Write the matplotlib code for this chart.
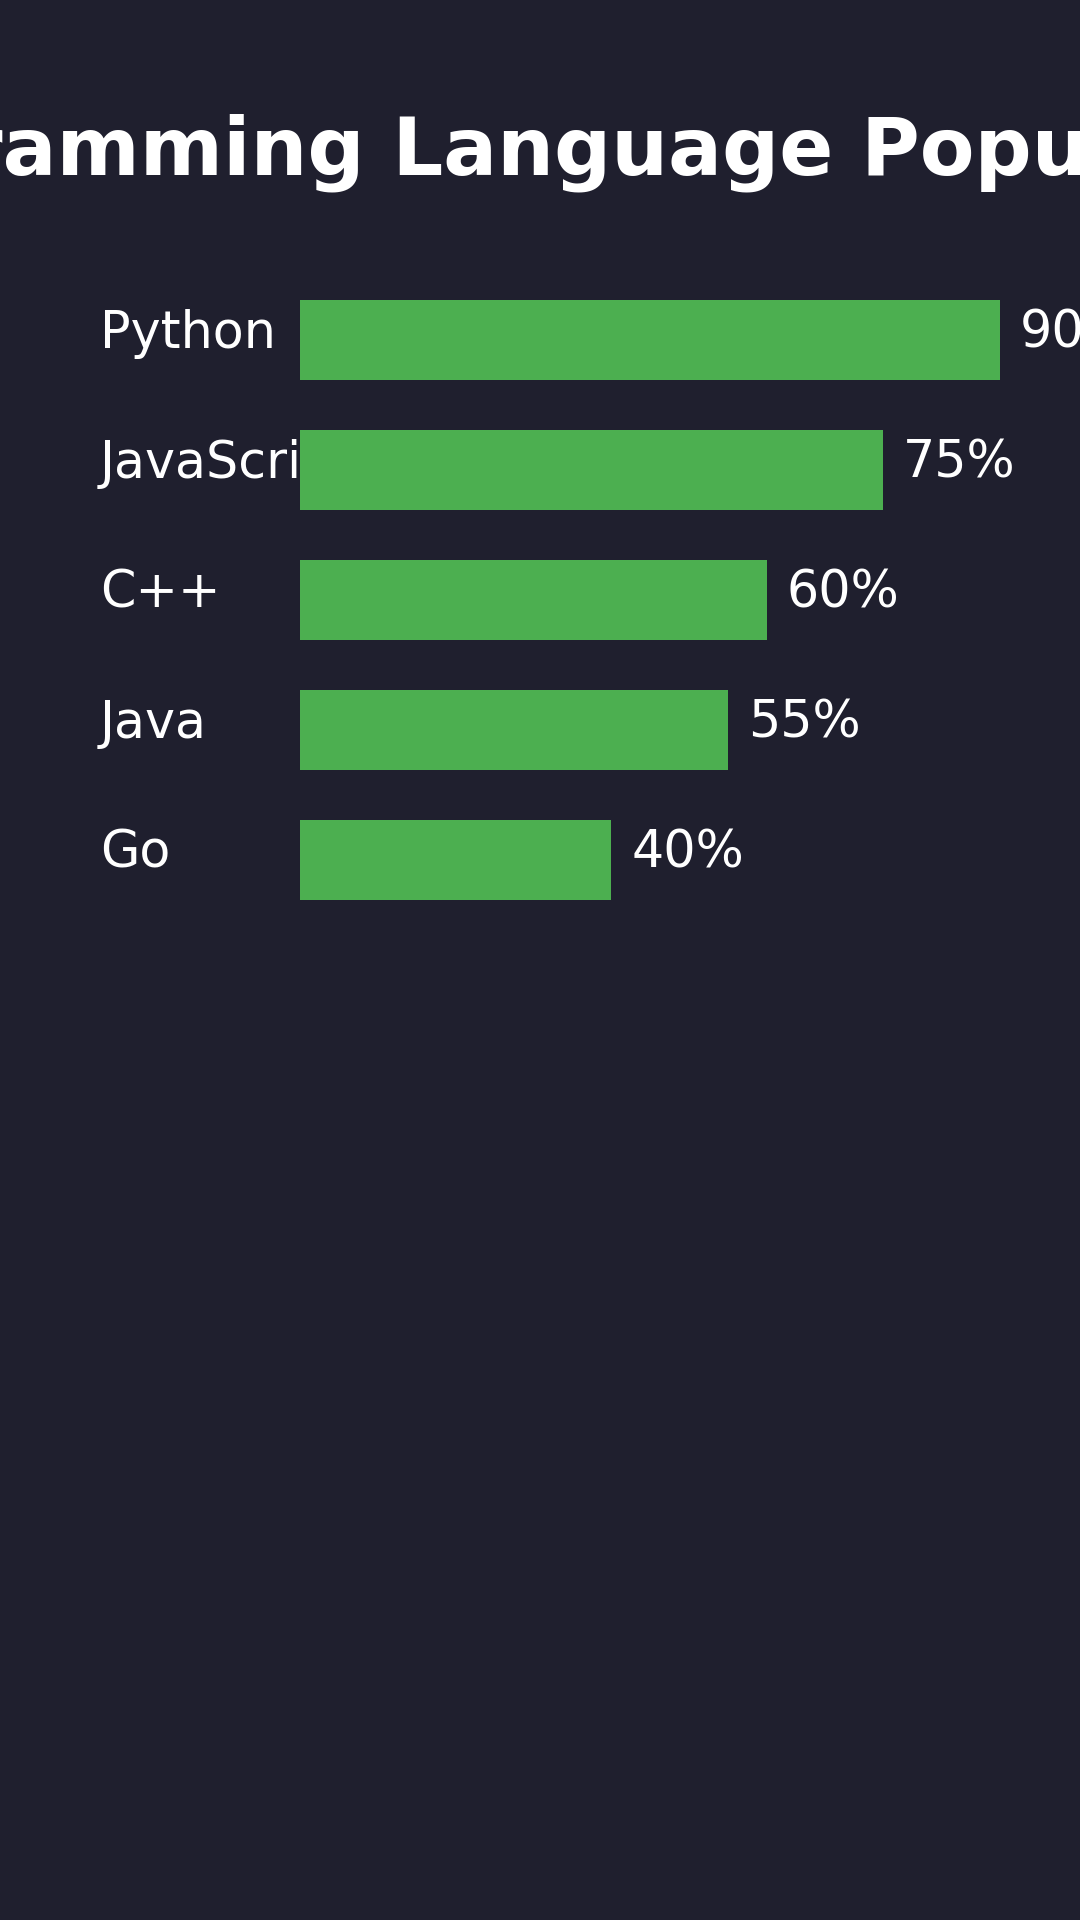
import matplotlib
matplotlib.use("Agg")
import matplotlib.pyplot as plt
import matplotlib.transforms as mtransforms

title = "Programming Language Popularity"
languages = ["Python", "JavaScript", "C++", "Java", "Go"]
popularity = [90, 75, 60, 55, 40]

BG = "#1f1f2e"
GREEN = "#4caf50"
W, H = 1080, 1920

fig = plt.figure(figsize=(W / 100, H / 100), dpi=100, facecolor=BG)
ax = fig.add_axes([300 / W, 1 - 925 / H, 700 / W, 650 / H])
ax.set_facecolor(BG)
ax.set_xlim(0, 90)
ax.set_ylim(len(languages) - 0.5, -0.5)
ax.axis("off")

ypos = list(range(len(languages)))
ax.barh(ypos, popularity, height=80 / 130, color=GREEN, zorder=3)

label_tr = mtransforms.offset_copy(
    mtransforms.blended_transform_factory(fig.transFigure, ax.transData),
    fig=fig, x=0, y=-8, units="dots")
val_tr = mtransforms.offset_copy(ax.transData, fig=fig, x=20, y=-8, units="dots")

for i, (lang, v) in enumerate(zip(languages, popularity)):
    ax.text(100 / W, i, lang, transform=label_tr, ha="left", va="baseline",
            fontsize=36.5, color="white", zorder=2, clip_on=False)
    ax.text(v, i, f"{v}%", transform=val_tr, ha="left", va="baseline",
            fontsize=36.5, color="white", zorder=4, clip_on=False)

fig.text(0.5, 1 - 175 / H, title, ha="center", va="baseline",
         fontsize=57.5, fontweight="bold", color="white")

fig.savefig("out.png", dpi=100, facecolor=BG)
